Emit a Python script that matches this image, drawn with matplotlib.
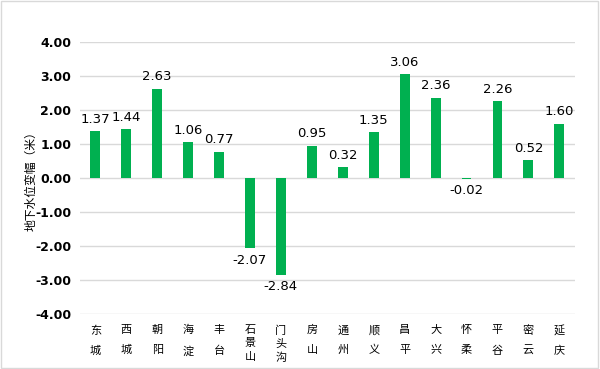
import matplotlib.pyplot as plt
import numpy as np

plt.rcParams['font.family'] = ['Noto Sans CJK SC', 'DejaVu Sans']

districts = ['东城', '西城', '朝阳', '海淀', '丰台', '石景山', '门头沟', '房山',
             '通州', '顺义', '昌平', '大兴', '怀柔', '平谷', '密云', '延庆']
changes = [1.37, 1.44, 2.63, 1.06, 0.77, -2.07, -2.84, 0.95,
           0.32, 1.35, 3.06, 2.36, -0.02, 2.26, 0.52, 1.60]
yticks = [-4, -3, -2, -1, 0, 1, 2, 3, 4]

fig = plt.figure(figsize=(6, 3.69), dpi=100)
ax = fig.add_axes([0.133, 0.149, 0.825, 0.737])

x = np.arange(len(districts))
ax.bar(x, changes, width=0.32, color='#00B050', zorder=3)

for xi, v in zip(x, changes):
    if v >= 0:
        ax.text(xi, v + 0.16, f'{v:.2f}', ha='center', va='bottom',
                fontsize=9.5, family='DejaVu Sans')
    else:
        ax.text(xi, v - 0.16, f'{v:.2f}', ha='center', va='top',
                fontsize=9.5, family='DejaVu Sans')

ax.set_ylim(-4, 4)
ax.set_xlim(-0.5, len(districts) - 0.5)
ax.set_yticks(yticks)
ax.set_yticklabels([f'{t:.2f}' for t in yticks], fontweight='bold',
                   fontsize=9, family='DejaVu Sans')
ax.grid(axis='y', color='#d9d9d9', linewidth=1, zorder=0)

ax.set_xticks(x)
ax.set_xticklabels(['\n'.join(d) for d in districts], fontsize=8)
for lbl, d in zip(ax.get_xticklabels(), districts):
    lbl.set_linespacing(1.4 if len(d) == 3 else 2.2)

ax.tick_params(axis='x', length=0, pad=8)
ax.tick_params(axis='y', length=0, pad=6)
for s in ax.spines.values():
    s.set_visible(False)

ax.set_ylabel('地下水位变幅（米）', fontsize=8.5)
ax.yaxis.set_label_coords(-0.085, 0.5)

fig.patches.append(plt.Rectangle((0.002, 0.003), 0.995, 0.994,
                                 transform=fig.transFigure, fill=False,
                                 edgecolor='#d9d9d9', linewidth=1))

fig.savefig('out.png', dpi=100)
